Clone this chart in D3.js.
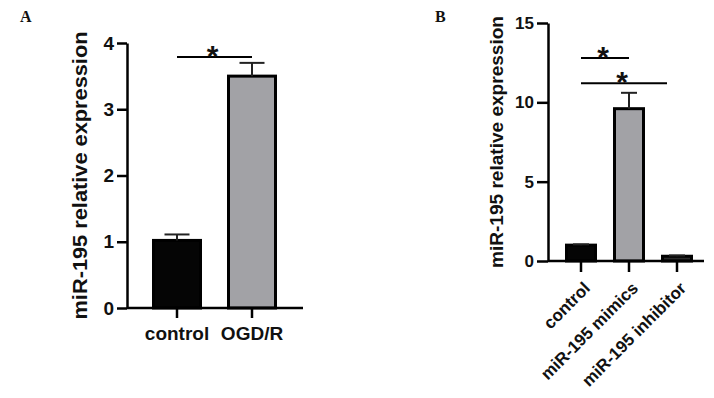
<!DOCTYPE html>
<html>
<head>
<meta charset="utf-8">
<script src="https://cdn.jsdelivr.net/npm/d3@7"></script>
<style>
    body { margin: 0; background: #fff; }
    text { font-family: "Liberation Sans", Arial, sans-serif; font-weight: bold; fill: #111; }
</style>
</head>
<body>
<div id="chart"></div>
<script>
//------------------------------------------------------
// data
//------------------------------------------------------
var catsA = ["control", "OGD/R"]
var meanA = [1.02, 3.5]
var errA = [0.09, 0.2]
var fillA = ["#050505", "#a2a2a6"]
var ticksA = [0, 1, 2, 3, 4]
var sigA = [{ from: "control", to: "OGD/R", y: 3.79 }]

var catsB = ["control", "miR-195 mimics", "miR-195 inhibitor"]
var meanB = [1.0, 9.6, 0.3]
var errB = [0.05, 1.0, 0.05]
var fillB = ["#050505", "#a2a2a6", "#2a2a2a"]
var ticksB = [0, 5, 10, 15]
var sigB = [
    { from: "control", to: "miR-195 mimics", y: 12.8 },
    { from: "control", to: "miR-195 inhibitor", y: 11.2, endShift: -10 }
]

var yTitle = "miR-195 relative expression"

var svg = d3.select("#chart").append("svg")
    .attr("width", 714)
    .attr("height", 398)

//------------------------------------------------------
// one panel of the figure
//------------------------------------------------------
function drawPanel(o) {
    var g = svg.append("g")

    var y = d3.scaleLinear().domain(o.yDomain).range([o.bottom, o.top])
    var x = d3.scaleBand().domain(o.cats)
        .range([o.left + o.gap, o.left + o.gap + o.step * o.cats.length])
        .paddingInner(1 - o.barW / o.step).paddingOuter((1 - o.barW / o.step) / 2)

    // bars
    g.selectAll(".bar")
        .data(o.cats)
        .enter()
        .append("rect")
        .attr("x", (d) => x(d) + 1.5)
        .attr("y", (d, i) => y(o.mean[i]))
        .attr("width", x.bandwidth() - 3)
        .attr("height", (d, i) => y(0) - y(o.mean[i]))
        .style("fill", (d, i) => o.fill[i])
        .style("stroke", "#000")
        .style("stroke-width", 3)

    // error bars (upper only)
    var eb = g.selectAll(".err")
        .data(o.cats)
        .enter()
        .append("g")
    eb.append("line")
        .attr("x1", (d) => x(d) + x.bandwidth() / 2)
        .attr("x2", (d) => x(d) + x.bandwidth() / 2)
        .attr("y1", (d, i) => y(o.mean[i]))
        .attr("y2", (d, i) => y(o.mean[i] + o.err[i]))
        .style("stroke", "#222").style("stroke-width", 2)
    eb.append("line")
        .attr("x1", (d) => x(d) + x.bandwidth() / 2 - o.cap / 2)
        .attr("x2", (d) => x(d) + x.bandwidth() / 2 + o.cap / 2)
        .attr("y1", (d, i) => y(o.mean[i] + o.err[i]))
        .attr("y2", (d, i) => y(o.mean[i] + o.err[i]))
        .style("stroke", "#222").style("stroke-width", 2)

    // y axis
    var ya = g.append("g")
        .attr("transform", "translate(" + o.left + ",0)")
        .call(d3.axisLeft(y).tickValues(o.ticks).tickFormat(d3.format("d"))
            .tickSize(o.tick).tickPadding(3).tickSizeOuter(0))
    ya.select(".domain").style("stroke", "#000").style("stroke-width", 2.5)
    ya.selectAll(".tick line").style("stroke", "#000").style("stroke-width", 2.5)
    ya.selectAll(".tick text")
        .style("font-family", "Liberation Sans, Arial, sans-serif")
        .style("font-weight", "bold")
        .style("font-size", o.tickFont + "px")
        .style("fill", "#111")

    // x axis
    var xa = g.append("g")
        .attr("transform", "translate(0," + o.bottom + ")")
        .call(d3.axisBottom(x).tickSize(o.tick).tickPadding(o.xPad).tickSizeOuter(0))
    xa.select(".domain")
        .attr("d", "M" + o.left + ",0H" + o.right)
        .style("stroke", "#000").style("stroke-width", 2.5)
    xa.selectAll(".tick line").style("stroke", "#000").style("stroke-width", 2.5)
    var xt = xa.selectAll(".tick text")
        .style("font-family", "Liberation Sans, Arial, sans-serif")
        .style("font-weight", "bold")
        .style("font-size", o.xFont + "px")
        .style("fill", "#111")
    if (o.rotate) {
        xt.attr("text-anchor", "end")
            .attr("dy", "0.35em")
            .attr("y", 0)
            .attr("transform", "translate(6," + (o.tick + 13) + ") rotate(" + o.rotate + ")")
    }

    // axis title
    g.append("text")
        .attr("transform", "translate(" + o.titleX + "," + (o.top + o.bottom) / 2 + ") rotate(-90)")
        .attr("text-anchor", "middle")
        .attr("dy", "0.35em")
        .attr("textLength", o.titleLen)
        .attr("lengthAdjust", "spacingAndGlyphs")
        .style("font-size", o.titleFont + "px")
        .text(yTitle)

    // significance lines and stars
    var sg = g.selectAll(".sig")
        .data(o.sig)
        .enter()
        .append("g")
    sg.append("line")
        .attr("x1", (d) => x(d.from) + x.bandwidth() / 2)
        .attr("x2", (d) => x(d.to) + x.bandwidth() / 2 + (d.endShift || 0))
        .attr("y1", (d) => y(d.y))
        .attr("y2", (d) => y(d.y))
        .style("stroke", "#000").style("stroke-width", 2)
    sg.append("text")
        .attr("x", (d) => (x(d.from) + x(d.to) + x.bandwidth() + (d.endShift || 0)) / 2 - 2)
        .attr("y", (d) => y(d.y) + 9)
        .attr("text-anchor", "middle")
        .style("font-size", "30px")
        .text("*")

    // panel letter
    svg.append("text")
        .attr("x", o.letterX).attr("y", o.letterY)
        .style("font-family", "Liberation Serif, Times New Roman, serif")
        .style("font-size", "16px")
        .text(o.letter)
}

drawPanel({
    cats: catsA, mean: meanA, err: errA, fill: fillA, ticks: ticksA, sig: sigA,
    yDomain: [0, 4], top: 43, bottom: 308, left: 127, right: 303,
    gap: 12.5, step: 75, barW: 50, cap: 25, tick: 10, xPad: 9,
    tickFont: 19, xFont: 19, titleFont: 21, titleX: 80, titleLen: 288,
    letter: "A", letterX: 20, letterY: 22
})

drawPanel({
    cats: catsB, mean: meanB, err: errB, fill: fillB, ticks: ticksB, sig: sigB,
    yDomain: [0, 15], top: 23, bottom: 261, left: 548, right: 704,
    gap: 9, step: 48, barW: 32, cap: 16, tick: 11, xPad: 4,
    tickFont: 17, xFont: 17, titleFont: 19, titleX: 496, titleLen: 252,
    rotate: -45,
    letter: "B", letterX: 435, letterY: 22
})
</script>
</body>
</html>
